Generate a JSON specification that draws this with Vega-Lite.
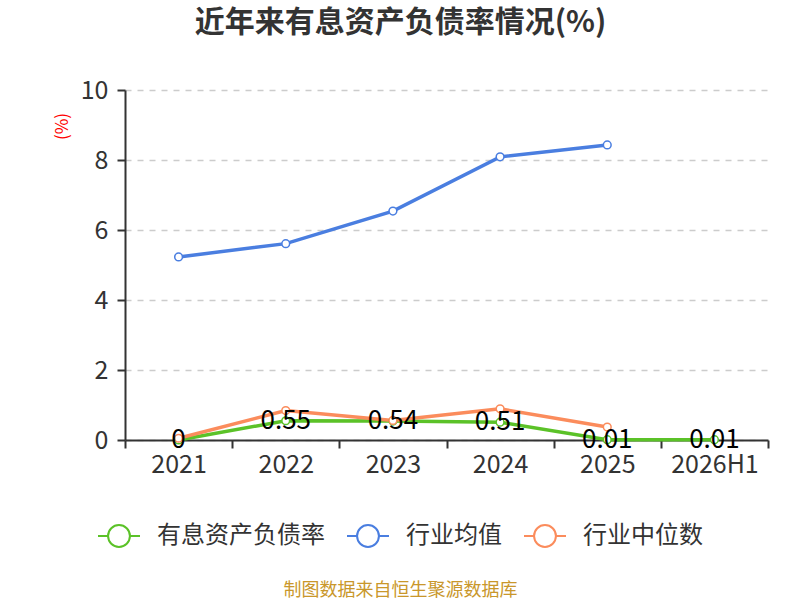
{
  "$schema": "https://vega.github.io/schema/vega-lite/v6.json",
  "autosize": "none",
  "width": 643,
  "height": 350,
  "padding": {"left": 125, "top": 90, "right": 32, "bottom": 160},
  "background": "white",
  "title": {
    "text": "近年来有息资产负债率情况(%)",
    "fontSize": 30,
    "fontWeight": "bold",
    "color": "#333333",
    "font": "Noto Sans CJK SC",
    "anchor": "middle",
    "frame": "group",
    "dx": -46,
    "offset": 40
  },
  "data": {
    "values": [
      {"year": "2021", "series": "有息资产负债率", "value": 0},
      {"year": "2022", "series": "有息资产负债率", "value": 0.55},
      {"year": "2023", "series": "有息资产负债率", "value": 0.54},
      {"year": "2024", "series": "有息资产负债率", "value": 0.51},
      {"year": "2025", "series": "有息资产负债率", "value": 0.01},
      {"year": "2026H1", "series": "有息资产负债率", "value": 0.01},
      {"year": "2021", "series": "行业均值", "value": 5.23},
      {"year": "2022", "series": "行业均值", "value": 5.61},
      {"year": "2023", "series": "行业均值", "value": 6.54},
      {"year": "2024", "series": "行业均值", "value": 8.09},
      {"year": "2025", "series": "行业均值", "value": 8.43},
      {"year": "2021", "series": "行业中位数", "value": 0.05},
      {"year": "2022", "series": "行业中位数", "value": 0.84},
      {"year": "2023", "series": "行业中位数", "value": 0.56},
      {"year": "2024", "series": "行业中位数", "value": 0.89},
      {"year": "2025", "series": "行业中位数", "value": 0.37}
    ]
  },
  "encoding": {
    "x": {
      "field": "year",
      "type": "ordinal",
      "sort": null,
      "scale": {"type": "band", "paddingInner": 0, "paddingOuter": 0},
      "axis": {
        "title": "制图数据来自恒生聚源数据库",
        "titleColor": "#c9972b",
        "titleFontSize": 18,
        "titleFontWeight": "normal",
        "titleFont": "Noto Sans CJK SC",
        "titleX": 275,
        "titleY": 150,
        "titleBaseline": "middle",
        "titleAlign": "center",
        "labelAngle": 0,
        "labelFontSize": 25,
        "labelColor": "#333333",
        "labelFont": "Noto Sans CJK SC",
        "labelPadding": 4,
        "domainColor": "#333333",
        "domainWidth": 2,
        "tickColor": "#333333",
        "tickWidth": 2,
        "tickSize": 8,
        "tickBand": "extent",
        "grid": false
      }
    },
    "y": {
      "field": "value",
      "type": "quantitative",
      "scale": {"domain": [0, 10]},
      "axis": {
        "title": "(%)",
        "titleColor": "#ff0000",
        "titleFontSize": 17,
        "titleFontWeight": "normal",
        "titleFont": "Noto Sans CJK SC",
        "titleX": -63,
        "titleY": 36,
        "titleAngle": 270,
        "titleAlign": "center",
        "titleBaseline": "middle",
        "values": [0, 2, 4, 6, 8, 10],
        "labelFontSize": 25,
        "labelColor": "#333333",
        "labelFont": "Noto Sans CJK SC",
        "labelPadding": 9,
        "domainColor": "#333333",
        "domainWidth": 2,
        "tickColor": "#333333",
        "tickWidth": 2,
        "tickSize": 8,
        "grid": true,
        "gridColor": "#cccccc",
        "gridDash": [6, 6],
        "gridWidth": 1.5
      }
    },
    "color": {
      "field": "series",
      "type": "nominal",
      "sort": ["有息资产负债率", "行业均值", "行业中位数"],
      "scale": {
        "domain": ["有息资产负债率", "行业均值", "行业中位数"],
        "range": ["#5bc228", "#4a7ee0", "#fb8c5c"]
      },
      "legend": {
        "title": null,
        "orient": "none",
        "direction": "horizontal",
        "legendX": -28,
        "legendY": 424,
        "symbolType": "M-1,0L-0.52,0M0.52,0L1,0M0.52,0A0.52,0.52 0 1,1 -0.52,0A0.52,0.52 0 1,1 0.52,0",
        "symbolSize": 1764,
        "symbolStrokeWidth": 2,
        "symbolFillColor": "white",
        "labelFontSize": 24,
        "labelLimit": 400,
        "labelColor": "#333333",
        "labelFont": "Noto Sans CJK SC",
        "labelOffset": 16,
        "columnPadding": 18
      }
    }
  },
  "layer": [
    {
      "mark": {"type": "line", "strokeWidth": 3.5}
    },
    {
      "mark": {"type": "point", "shape": "circle", "filled": false, "fill": "white", "size": 60, "strokeWidth": 1.5, "opacity": 1}
    },
    {
      "transform": [{"filter": "datum.series == '有息资产负债率'"}],
      "mark": {"type": "text", "fontSize": 26, "font": "Noto Sans CJK SC", "baseline": "middle", "align": "center"},
      "encoding": {
        "text": {"field": "value", "type": "quantitative"},
        "color": {"value": "#000000"}
      }
    }
  ],
  "config": {
    "view": {"stroke": null}
  }
}
